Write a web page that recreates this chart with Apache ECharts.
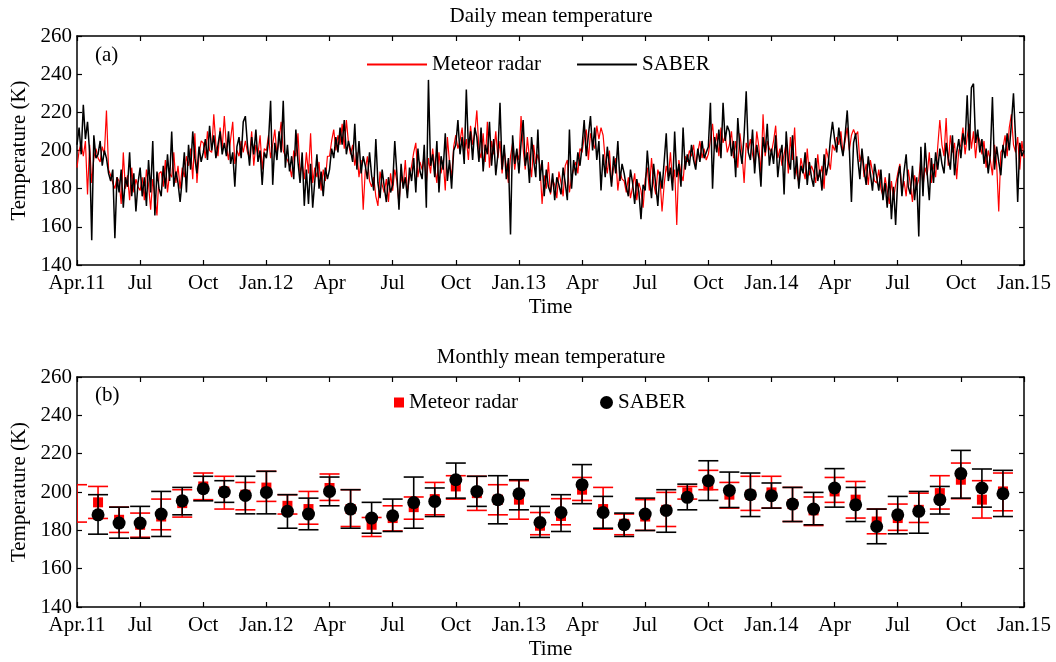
<!DOCTYPE html>
<html>
<head>
<meta charset="utf-8">
<script src="https://cdn.jsdelivr.net/npm/echarts@6/dist/echarts.min.js"></script>
<style>
html,body{margin:0;padding:0;background:#fff;}
#chart{width:1056px;height:662px;}
</style>
</head>
<body>
<div id="chart"></div>
<script>
// ---------- tick labels (one every 3 months, Apr 2011 .. Jan 2015) ----------
const tickLabels = ['Apr.11','Jul','Oct','Jan.12','Apr','Jul','Oct','Jan.13','Apr','Jul','Oct','Jan.14','Apr','Jul','Oct','Jan.15'];

// ---------- daily means, sampled every 0.1 month from Apr 2011 ----------
const radarDaily = [
191,200,204,197,205,177,203,183,196,201,
196,194,202,198,221,190,187,183,180,186,
184,172,199,180,187,174,191,178,185,181,
179,186,174,190,182,169,185,176,166,188,
189,181,195,178,188,186,199,183,192,180,
191,186,197,192,201,185,209,183,198,205,
204,196,210,200,199,219,203,197,212,201,
218,202,195,206,215,193,200,197,205,199,
205,199,196,210,192,203,198,208,190,201,
200,208,196,203,211,198,205,215,200,197,
195,192,186,200,197,209,188,193,185,199,
188,209,183,191,186,194,179,190,184,197,
197,205,211,200,208,203,214,201,216,204,
198,203,192,199,186,195,169,190,197,184,
181,186,176,171,189,182,178,185,173,188,
179,190,184,172,187,181,195,178,186,192,
199,204,186,194,190,198,183,196,188,201,
191,183,199,188,195,179,207,194,186,202,
208,201,205,212,199,206,195,213,203,209,
221,200,196,209,194,215,191,205,198,210,
196,205,188,200,192,183,197,204,190,199,
195,218,201,190,207,196,186,203,193,198,
192,172,187,180,194,177,185,182,175,189,
183,176,192,195,178,186,190,194,188,201,
199,207,211,195,209,204,201,213,206,212,
208,195,188,200,183,191,196,179,189,185,
184,178,186,175,181,188,174,183,179,170,
185,191,179,196,183,177,190,186,168,182,
192,186,199,183,190,161,195,188,184,197,
194,200,197,203,192,199,205,196,201,195,
198,206,214,201,209,197,212,204,208,199,
203,210,196,205,191,209,199,183,204,200,
206,198,193,210,202,188,219,197,205,201,
199,205,213,196,201,192,198,204,188,207,
195,212,188,183,196,190,185,201,187,192,
189,183,198,186,192,180,201,196,190,203,
200,207,203,210,198,205,212,200,208,211,
208,210,194,199,186,193,182,195,189,184,
183,190,180,176,186,179,172,184,175,182,
188,193,179,184,176,190,182,173,187,181,
185,196,181,191,187,199,183,193,186,202,
216,203,197,217,192,208,199,204,185,200,
203,212,198,207,214,201,210,196,208,205,
198,205,191,200,195,187,203,193,168,199,
201,208,197,212,219,203,199,207,190,205,196
];
const saberDaily = [
203,212,198,224,206,215,199,153,208,196,
198,205,192,200,196,188,184,190,154,186,
178,190,170,186,181,199,176,188,168,183,
191,176,186,171,195,178,205,166,189,180,
176,192,180,198,184,210,181,189,183,173,
185,199,178,203,190,210,196,188,202,194,
199,206,195,213,200,208,196,203,210,198,
204,197,210,193,199,181,202,207,196,215,
218,203,192,207,198,211,194,200,182,199,
196,205,226,182,204,195,210,199,226,191,
203,189,197,185,211,194,183,199,171,190,
172,193,170,184,198,180,189,176,191,185,
190,201,196,207,199,212,203,216,198,205,
200,194,214,190,205,188,197,192,185,199,
187,179,206,183,175,190,181,173,186,178,
182,205,188,169,193,180,186,175,191,184,
196,178,201,189,185,203,170,237,192,198,
186,205,178,197,190,209,184,195,180,200,
203,216,198,207,193,232,201,210,195,212,
207,194,212,189,203,198,215,192,206,187,
198,225,190,203,185,196,156,208,193,201,
188,204,216,192,199,183,207,195,186,211,
184,195,176,190,181,178,188,174,186,182,
177,191,183,174,211,180,195,187,199,192,
202,216,197,208,218,200,212,195,205,179,
198,186,202,192,181,197,188,205,184,193,
188,181,176,190,183,172,185,178,164,182,
179,200,186,175,193,182,171,189,180,194,
209,184,191,179,210,186,193,181,212,190,
198,192,203,195,190,201,194,205,196,199,
202,225,180,207,199,211,196,225,205,213,
210,197,205,186,217,201,193,208,231,199,
195,211,188,203,196,181,207,199,214,192,
201,193,208,186,197,203,177,210,195,190,
208,185,197,180,192,188,199,182,194,186,
181,196,184,190,179,198,187,193,206,215,
206,199,212,203,197,208,221,201,173,204,
209,196,185,201,190,182,197,188,179,193,
186,179,190,174,183,170,188,164,181,161,
185,192,176,189,198,181,177,192,174,186,
155,202,176,204,188,174,196,183,199,190,
201,193,188,204,196,190,208,187,199,206,
196,209,203,229,200,233,235,204,211,199,
206,193,201,188,198,228,190,202,194,187,
203,196,209,200,214,230,206,173,204,197,200
];

// ---------- monthly means with error bars ----------
// Meteor radar: months 0..44 (first month: bar only)
const radarMonthlyMean = [null,194.6,185.5,182.9,187.2,194.2,202.9,200.3,198.6,202.3,192.8,191.1,202.1,191.1,182.9,186.4,192.1,196.3,202.9,199.4,196.0,196.0,182.4,187.5,201.2,191.1,183.4,187.2,190.7,199.8,203.5,198.6,198.6,199.8,193.7,190.4,200.3,196.0,184.6,186.4,190.7,199.4,206.4,196.0,200.3];
const radarMonthlyHigh = [203.8,202.9,192.1,189.0,196.3,201.2,209.9,208.2,205.0,210.8,198.6,200.3,209.4,201.2,186.7,192.8,197.4,205.0,208.5,208.2,203.8,205.9,189.3,196.5,207.6,202.4,188.5,196.0,199.8,202.9,211.3,205.0,208.2,208.2,202.4,197.4,207.6,205.5,191.1,193.7,199.4,208.5,215.1,205.9,209.9];
const radarMonthlyLow  = [184.3,186.2,178.9,176.4,180.3,186.9,196.0,191.1,190.7,195.1,188.5,183.2,195.6,182.0,176.8,179.7,185.8,188.1,196.3,190.4,188.1,185.8,177.7,182.9,195.6,180.6,177.7,180.0,182.0,196.3,201.2,191.6,190.4,191.6,184.6,182.5,194.6,186.4,178.2,180.0,184.1,191.1,196.5,186.4,190.2];
// SABER: months 1..44
const saberMonthlyMean = [188.1,183.8,183.8,188.5,195.4,201.7,200.0,198.2,199.8,189.9,188.5,200.3,191.1,186.4,187.6,194.5,195.1,206.4,200.3,196.0,199.1,184.1,189.3,203.8,189.3,182.9,188.5,190.4,197.2,205.9,200.8,198.6,198.1,193.7,191.1,202.1,193.3,182.0,188.1,189.9,196.0,209.6,202.1,199.1];
const saberMonthlyHigh = [198.6,192.1,192.5,200.3,202.4,208.2,205.9,208.2,210.8,198.6,196.8,207.8,201.2,194.6,196.3,207.8,202.1,215.1,208.2,208.5,206.4,192.5,198.6,214.3,197.7,189.0,196.8,201.2,204.1,216.3,210.4,209.9,204.7,202.4,199.8,212.2,202.4,191.1,197.7,200.3,202.9,221.7,212.0,211.3];
const saberMonthlyLow  = [178.0,175.9,175.9,176.8,188.1,195.4,194.6,188.6,188.6,181.1,180.3,192.8,181.1,178.5,179.4,181.1,187.2,196.8,192.5,183.4,190.7,176.3,179.4,193.9,181.1,176.8,179.9,179.0,190.7,195.6,191.9,187.2,191.6,184.6,182.9,192.1,184.6,173.0,178.2,178.5,188.5,196.8,192.1,187.2];

// ---------- build ----------
const FONT = 'Liberation Serif';
const FS = 21;
const RED = '#ff0000', BLACK = '#000000';
const dailyStep = 0.1;
const radarDailyData = radarDaily.map((v, i) => [i * dailyStep, v]);
const saberDailyData = saberDaily.map((v, i) => [i * dailyStep, v]);
const radarMonthlyData = radarMonthlyMean.map((v, i) => [i, v == null ? '-' : v, radarMonthlyLow[i], radarMonthlyHigh[i]]);
const saberMonthlyData = saberMonthlyMean.map((v, i) => [i + 1, v, saberMonthlyLow[i], saberMonthlyHigh[i]]);

function errorBarRenderer(shape, color) {
  return function (params, api) {
    const x = api.value(0), mean = api.value(1), lo = api.value(2), hi = api.value(3);
    const pLo = api.coord([x, lo]);
    const pHi = api.coord([x, hi]);
    const half = 10;
    const st = { stroke: color, lineWidth: 1.6 };
    const children = [
      { type: 'line', shape: { x1: pLo[0], y1: pLo[1], x2: pHi[0], y2: pHi[1] }, style: st },
      { type: 'line', shape: { x1: pLo[0] - half, y1: pLo[1], x2: pLo[0] + half, y2: pLo[1] }, style: st },
      { type: 'line', shape: { x1: pHi[0] - half, y1: pHi[1], x2: pHi[0] + half, y2: pHi[1] }, style: st }
    ];
    if (mean !== '-' && mean != null && !isNaN(mean)) {
      const p = api.coord([x, mean]);
      if (shape === 'rect') {
        children.push({ type: 'rect', shape: { x: p[0] - 5, y: p[1] - 5, width: 10, height: 10 }, style: { fill: color } });
      } else {
        children.push({ type: 'circle', shape: { cx: p[0], cy: p[1], r: 6.5 }, style: { fill: color } });
      }
    }
    return { type: 'group', children };
  };
}

function xAxes(gridIndex) {
  const common = {
    gridIndex, type: 'value', min: 0, max: 45, interval: 3,
    axisLine: { show: true, onZero: false, lineStyle: { color: BLACK, width: 1.5 } },
    axisTick: { show: true, inside: true, length: 5, lineStyle: { color: BLACK, width: 1.2 } },
    splitLine: { show: false }
  };
  return [
    Object.assign({}, common, {
      position: 'bottom',
      axisLabel: { show: true, showMinLabel: true, showMaxLabel: true, margin: 8, color: BLACK, fontFamily: FONT, fontSize: FS,
        formatter: v => tickLabels[Math.round(v / 3)] },
      name: 'Time', nameLocation: 'middle', nameGap: 32,
      nameTextStyle: { color: BLACK, fontFamily: FONT, fontSize: FS }
    }),
    Object.assign({}, common, { position: 'top', axisLabel: { show: false } })
  ];
}
function yAxes(gridIndex) {
  const common = {
    gridIndex, type: 'value', min: 140, max: 260, interval: 20,
    axisLine: { show: true, onZero: false, lineStyle: { color: BLACK, width: 1.5 } },
    axisTick: { show: true, inside: true, length: 5, lineStyle: { color: BLACK, width: 1.2 } },
    splitLine: { show: false }
  };
  return [
    Object.assign({}, common, {
      position: 'left',
      axisLabel: { show: true, margin: 5, color: BLACK, fontFamily: FONT, fontSize: FS },
      name: 'Temperature (K)', nameLocation: 'middle', nameGap: 45,
      nameTextStyle: { color: BLACK, fontFamily: FONT, fontSize: FS }
    }),
    Object.assign({}, common, { position: 'right', axisLabel: { show: false } })
  ];
}

const chart = echarts.init(document.getElementById('chart'), null, { renderer: 'canvas' });
chart.setOption({
  animation: false,
  backgroundColor: '#fff',
  title: [
    { text: 'Daily mean temperature', left: 551, top: 6, textAlign: 'center', padding: 0,
      textStyle: { color: BLACK, fontFamily: FONT, fontSize: FS, fontWeight: 'normal' } },
    { text: 'Monthly mean temperature', left: 551, top: 347, textAlign: 'center', padding: 0,
      textStyle: { color: BLACK, fontFamily: FONT, fontSize: FS, fontWeight: 'normal' } }
  ],
  grid: [
    { left: 77, top: 36, width: 947, height: 229, outerBoundsMode: 'none', containLabel: false },
    { left: 77, top: 377, width: 947, height: 230, outerBoundsMode: 'none', containLabel: false }
  ],
  xAxis: [].concat(xAxes(0), xAxes(1)),
  yAxis: [].concat(yAxes(0), yAxes(1)),
  legend: [
    { left: 367, top: 54, itemWidth: 60, itemHeight: 2, itemGap: 36, padding: 0,
      textStyle: { color: BLACK, fontFamily: FONT, fontSize: FS },
      data: [{ name: 'Meteor radar', icon: 'rect' }, { name: 'SABER', icon: 'rect' }] },
    { left: 394, top: 392, itemWidth: 10, itemHeight: 10, padding: 0,
      textStyle: { color: BLACK, fontFamily: FONT, fontSize: FS },
      data: [{ name: 'Meteor radar', icon: 'rect' }] },
    { left: 600, top: 392, itemWidth: 13, itemHeight: 13, padding: 0,
      textStyle: { color: BLACK, fontFamily: FONT, fontSize: FS },
      data: [{ name: 'SABER', icon: 'circle' }] }
  ],
  graphic: [
    { type: 'text', left: 95, top: 45, style: { text: '(a)', fill: BLACK, font: FS + 'px "Liberation Serif"' } },
    { type: 'text', left: 95, top: 385, style: { text: '(b)', fill: BLACK, font: FS + 'px "Liberation Serif"' } }
  ],
  series: [
    { name: 'Meteor radar', type: 'line', xAxisIndex: 0, yAxisIndex: 0, data: radarDailyData,
      showSymbol: false, symbol: 'none', color: RED, lineStyle: { color: RED, width: 1.2 }, z: 2 },
    { name: 'SABER', type: 'line', xAxisIndex: 0, yAxisIndex: 0, data: saberDailyData,
      showSymbol: false, symbol: 'none', color: BLACK, lineStyle: { color: BLACK, width: 1.5 }, z: 3 },
    { name: 'Meteor radar', type: 'custom', xAxisIndex: 2, yAxisIndex: 2, data: radarMonthlyData,
      color: RED, clip: true, renderItem: errorBarRenderer('rect', RED), encode: { x: 0, y: [1, 2, 3] }, z: 2 },
    { name: 'SABER', type: 'custom', xAxisIndex: 2, yAxisIndex: 2, data: saberMonthlyData,
      color: BLACK, clip: true, renderItem: errorBarRenderer('circle', BLACK), encode: { x: 0, y: [1, 2, 3] }, z: 3 }
  ]
});
</script>
</body>
</html>
